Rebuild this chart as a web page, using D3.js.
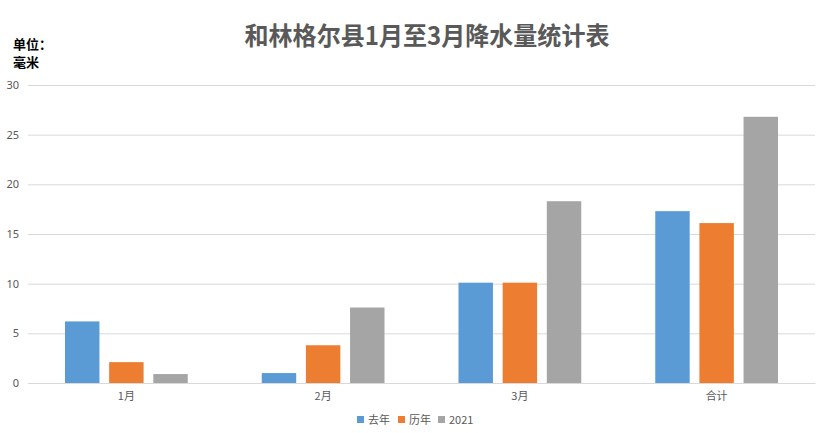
<!DOCTYPE html>
<html>
<head>
<meta charset="utf-8">
<script src="https://cdn.jsdelivr.net/npm/d3@7"></script>
<style>
  body { margin: 0; background: #fff; }
  text { font-family: "Noto Sans CJK SC", "Microsoft YaHei", sans-serif; }
</style>
</head>
<body>
<div id="chart"></div>
<script>
// data
var categories = ['1月', '2月', '3月', '合计'];
var seriesNames = ['去年', '历年', '2021'];
var lastYear = [6.2, 1.0, 10.1, 17.3];
var average = [2.1, 3.8, 10.1, 16.1];
var thisYear = [0.9, 7.6, 18.3, 26.8];
var yTicks = [0, 5, 10, 15, 20, 25, 30];
var colors = ['#5B9BD5', '#ED7D31', '#A5A5A5'];

var width = 827, height = 433;
var margin = { top: 85, right: 12, bottom: 50, left: 28 };
var innerW = width - margin.left - margin.right;
var innerH = height - margin.top - margin.bottom;

var svg = d3.select('#chart').append('svg')
    .attr('width', width)
    .attr('height', height);

svg.append('text')
    .text('和林格尔县1月至3月降水量统计表')
    .attr('x', 427)
    .attr('y', 45)
    .attr('font-size', '25px')
    .attr('font-weight', 'bold')
    .attr('fill', '#595959')
    .attr('text-anchor', 'middle')
    .attr('textLength', 365)
    .attr('lengthAdjust', 'spacingAndGlyphs');

svg.append('text').text('单位：')
    .attr('x', 13).attr('y', 49)
    .attr('font-size', '13px').attr('font-weight', 'bold').attr('fill', '#000');
svg.append('text').text('毫米')
    .attr('x', 13).attr('y', 67)
    .attr('font-size', '13px').attr('font-weight', 'bold').attr('fill', '#000');

var g = svg.append('g')
    .attr('transform', 'translate(' + margin.left + ',' + margin.top + ')');

var x0 = d3.scaleBand().domain(categories).range([0, innerW]).paddingInner(0).paddingOuter(0);
var x1 = d3.scaleBand().domain(seriesNames).range([37, x0.bandwidth() - 37]).paddingInner(0.22);
var y = d3.scaleLinear().domain([0, 30]).range([innerH, 0]);

// gridlines
g.append('g')
    .attr('class', 'grid')
    .call(d3.axisLeft(y).tickValues(yTicks).tickSize(-innerW).tickFormat(function () { return ''; }))
    .call(function (sel) {
        sel.select('.domain').remove();
        sel.selectAll('line').attr('stroke', '#D9D9D9');
    });

// y labels
g.append('g')
    .call(d3.axisLeft(y).tickValues(yTicks).tickSize(0).tickPadding(9))
    .call(function (sel) {
        sel.select('.domain').remove();
        sel.selectAll('text')
            .attr('font-size', '11px')
            .attr('fill', '#595959')
            .style('font-family', '"Noto Sans", sans-serif');
    });

// x labels
g.append('g')
    .attr('transform', 'translate(0,' + innerH + ')')
    .call(d3.axisBottom(x0).tickSize(0).tickPadding(9))
    .call(function (sel) {
        sel.select('.domain').attr('stroke', '#D9D9D9');
        sel.selectAll('text')
            .attr('font-size', '11px')
            .attr('fill', '#595959');
    });

var rows = categories.map(function (c, i) {
    return { cat: c, values: [lastYear[i], average[i], thisYear[i]] };
});

var groups = g.selectAll('.group')
    .data(rows)
    .enter().append('g')
    .attr('class', 'group')
    .attr('transform', function (d) { return 'translate(' + x0(d.cat) + ',0)'; });

groups.selectAll('rect')
    .data(function (d) {
        return d.values.map(function (v, j) { return { name: seriesNames[j], value: v, idx: j }; });
    })
    .enter().append('rect')
    .attr('x', function (d) { return x1(d.name); })
    .attr('y', function (d) { return y(d.value); })
    .attr('width', x1.bandwidth())
    .attr('height', function (d) { return innerH - y(d.value); })
    .attr('fill', function (d) { return colors[d.idx]; });

// legend
var legendX = [357, 398, 438];
var legend = svg.append('g');
seriesNames.forEach(function (name, i) {
    legend.append('rect')
        .attr('x', legendX[i]).attr('y', 416)
        .attr('width', 7).attr('height', 7)
        .attr('fill', colors[i]);
    legend.append('text')
        .text(name)
        .attr('x', legendX[i] + 11).attr('y', 424)
        .attr('font-size', '11px')
        .attr('fill', '#595959');
});
</script>
</body>
</html>
